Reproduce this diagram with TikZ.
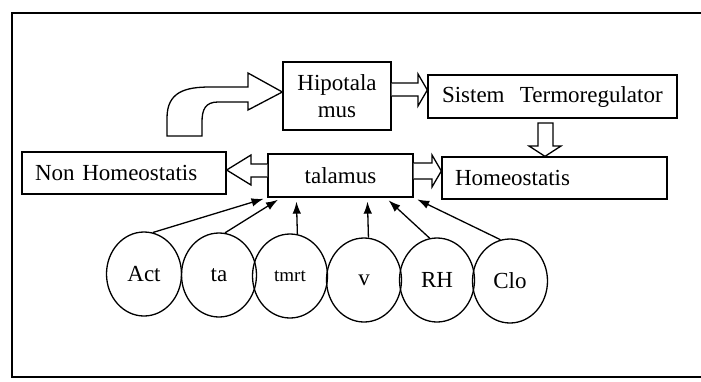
\documentclass[tikz,border=0pt]{standalone}
\usepackage{fontspec}
\setmainfont{Liberation Serif}
\usetikzlibrary{shapes.geometric,arrows.meta}
\begin{document}
\begin{tikzpicture}[x=1pt,y=-1pt,line width=1.3pt,
  box/.style={draw,rectangle,inner sep=0pt,font=\fontsize{23}{27}\selectfont},
  factor/.style={draw,ellipse,minimum width=75pt,minimum height=84pt,inner sep=0pt,font=\fontsize{23}{27}\selectfont},
  hollow/.style={draw,fill=white,line join=miter},
  inarrow/.style={-{Latex[length=12pt,width=8.5pt]},shorten >=4pt}]
\useasboundingbox (0,0) rectangle (701,381);
\draw (701,13) -- (12,13) -- (12,377) -- (701,377);
% boxes
\node[box,minimum width=108pt,minimum height=68pt,align=center] (hipo) at (337,96) {Hipotala\\mus};
\node[box,minimum width=249pt,minimum height=43pt,text width=221pt,inner xsep=14pt,align=left] (sistem) at (552.5,96.5) {Sistem\ \ Termoregulator};
\node[box,minimum width=145pt,minimum height=43pt] (talamus) at (340.5,175.5) {talamus};
\node[box,minimum width=225pt,minimum height=42pt,text width=199pt,inner xsep=13pt,align=left] (homeo) at (554.5,178) {Homeostatis};
\node[box,minimum width=204pt,minimum height=42pt,text width=178pt,inner xsep=13pt,align=left] (nonh) at (124,173) {Non Homeostatis};
% hollow arrows
\draw[hollow] (167,136) -- (167,118) .. controls (167,92) and (185,87) .. (210,87) -- (248,87) -- (248,73) -- (hipo.west |- 0,92) -- (248,110) -- (248,102) -- (218,102) .. controls (205,102) and (202,110) .. (202,122) -- (202,136) -- cycle;
\draw[hollow] (hipo.east |- 0,83) -- (418,83) -- (418,74) -- (sistem.west |- 0,90) -- (418,106) -- (418,96) -- (hipo.east |- 0,96);
\draw[hollow] (538,123) -- (538,146) -- (529,146) -- (545,0 |- homeo.north) -- (561,146) -- (553,146) -- (553,123) -- cycle;
\draw[hollow] (talamus.east |- 0,163) -- (432,163) -- (432,155) -- (homeo.west |- 0,171) -- (432,187) -- (432,179) -- (talamus.east |- 0,179);
\draw[hollow] (talamus.west |- 0,164) -- (251,164) -- (251,155) -- (nonh.east |- 0,170) -- (251,185) -- (251,177) -- (talamus.west |- 0,177);
% factors
\node[factor] (act) at (144,274) {Act};
\node[factor] (ta) at (219,275) {ta};
\node[factor,font=\fontsize{19}{22}\selectfont] (tmrt) at (290,276) {tmrt};
\node[factor] (v) at (364,280) {v};
\node[factor] (rh) at (437,280) {RH};
\node[factor] (clo) at (510,281) {Clo};
\draw[inarrow] (act.78) -- (talamus.south west);
\draw[inarrow] (ta.82) -- ([xshift=14pt]talamus.south west);
\draw[inarrow] (tmrt.80) -- ([xshift=29pt]talamus.south west);
\draw[inarrow] (v.84) -- ([xshift=100pt]talamus.south west);
\draw[inarrow] (rh.100) -- ([xshift=-28pt]talamus.south east);
\draw[inarrow] (clo.103) -- (talamus.south east);
\end{tikzpicture}
\end{document}
